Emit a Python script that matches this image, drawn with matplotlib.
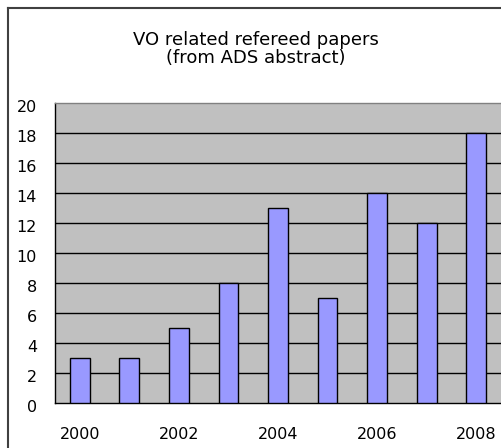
import matplotlib
matplotlib.use('Agg')
import matplotlib.pyplot as plt
import matplotlib.transforms as mtransforms
from matplotlib.lines import Line2D

plt.rcParams['font.family'] = ['DejaVu Sans']

years = [2000, 2001, 2002, 2003, 2004, 2005, 2006, 2007, 2008]
papers = [3, 3, 5, 8, 13, 7, 14, 12, 18]
title = "VO related refereed papers\n(from ADS abstract)"

W, H = 501, 448
fig = plt.figure(figsize=(W / 100, H / 100), dpi=100)

# chart frame: only left and top edges are visible in the crop
fig.add_artist(Line2D([8 / W, 8 / W], [0, 1 - 8 / H], transform=fig.transFigure,
                      color='#404040', lw=1.5))
fig.add_artist(Line2D([8 / W, 1], [1 - 8 / H, 1 - 8 / H], transform=fig.transFigure,
                      color='#404040', lw=1.5))

ax = fig.add_axes([55 / W, 45 / H, 1 - 55 / W, 300 / H])
ax.set_facecolor('#C0C0C0')

x = list(range(len(years)))
ax.bar(x, papers, width=0.4, color='#9999FF', edgecolor='black', linewidth=1, zorder=3)

ax.set_xlim(-0.5, len(years) - 0.5)
ax.set_ylim(0, 20)
ax.set_yticks(range(0, 21, 2))
ax.set_xticks(x[::2])
ax.set_xticklabels([str(y) for y in years[::2]])
ax.tick_params(axis='both', length=0, labelsize=11.5)
ax.tick_params(axis='y', pad=13)
ax.tick_params(axis='x', pad=17)

# y labels sit a little below their gridlines
shift = mtransforms.ScaledTranslation(0, -3 / 100, fig.dpi_scale_trans)
for lbl in ax.get_yticklabels():
    lbl.set_transform(lbl.get_transform() + shift)

for yv in range(2, 20, 2):
    ax.axhline(yv, color='black', lw=1, zorder=1)

ax.spines['top'].set_color('#808080')
ax.spines['right'].set_visible(False)
ax.spines['left'].set_color('black')
ax.spines['bottom'].set_color('black')
for s in ax.spines.values():
    s.set_linewidth(1)

fig.text(256 / W, 1 - 49 / H, title, ha='center', va='center', fontsize=13,
         linespacing=1.0)

fig.savefig('out.png', dpi=100)
